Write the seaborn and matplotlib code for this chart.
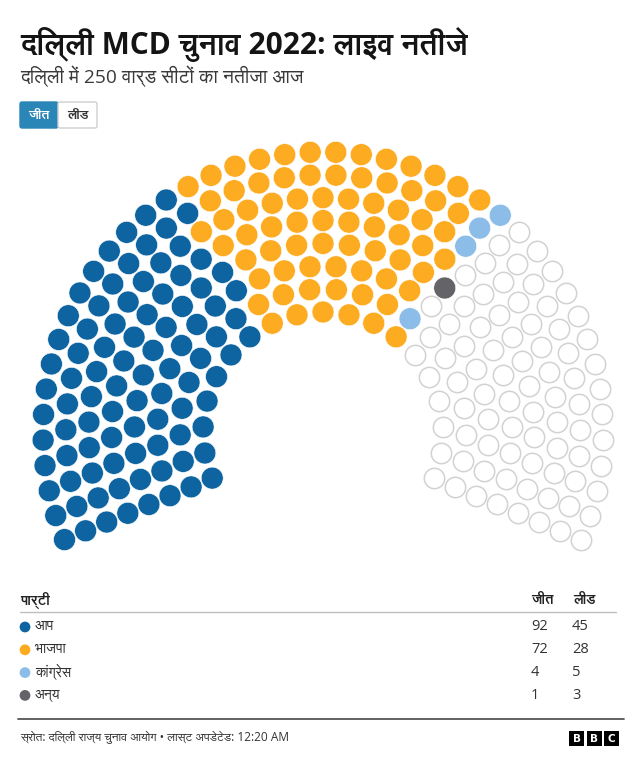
import numpy as np
import pandas as pd
import matplotlib
matplotlib.use("Agg")
import matplotlib.pyplot as plt
import seaborn as sns
from matplotlib import font_manager
from matplotlib.ft2font import FT2Font
from matplotlib.patches import FancyBboxPatch, Rectangle

# data
parties = ["आप", "भाजपा", "कांग्रेस", "अन्य"]
wins = [92, 72, 4, 1]
leads = [45, 28, 5, 3]
colors = ["#0e64a0", "#fdab20", "#8bbde8", "#636368"]
total_seats = 250
n_rows = 8

title = "दिल्ली MCD चुनाव 2022: लाइव नतीजे"
subtitle = "दिल्ली में 250 वार्ड सीटों का नतीजा आज"
source = "स्रोत: दिल्ली राज्य चुनाव आयोग • लास्ट अपडेटेड: 12:20 AM"


def weight_of(f):
    w = f.weight
    if isinstance(w, str):
        w = font_manager.weight_dict.get(w, 400)
    return w


def devanagari_fonts():
    # installed families with a Devanagari glyph, those with a bold face first
    names, bold = [], set()
    for f in font_manager.fontManager.ttflist:
        try:
            if ord("द") not in FT2Font(f.fname).get_charmap():
                continue
        except Exception:
            continue
        if f.name not in names:
            names.append(f.name)
        if weight_of(f) >= 600:
            bold.add(f.name)
    return sorted(names, key=lambda n: n not in bold)


sns.set_theme(style="white")
dev = devanagari_fonts()
fams = ["Open Sans"] + dev[:1] + ["DejaVu Sans"]
plt.rcParams["font.family"] = fams

# seat layout: rows of a 225 degree arc, seats ordered by angle
cx, cy = 323, 432
r_in, r_out = 120, 280
radii = np.linspace(r_in, r_out, n_rows)
raw = total_seats * radii / radii.sum()
per_row = np.floor(raw).astype(int)
rest = total_seats - per_row.sum()
per_row[np.argsort(raw - per_row)[::-1][:rest]] += 1

a0, a1 = np.radians(202.6), np.radians(-22.6)
rows = []
for r, n in zip(radii, per_row):
    ang = np.linspace(a0, a1, n)
    rows.append(pd.DataFrame({"ang": ang, "r": r}))
seats = pd.concat(rows, ignore_index=True)
seats = seats.sort_values(["ang", "r"], ascending=[False, True]).reset_index(drop=True)
seats["x"] = cx + seats["r"] * np.cos(seats["ang"])
seats["y"] = cy - seats["r"] * np.sin(seats["ang"])
seats["party"] = (sum([[p] * w for p, w in zip(parties, wins)], [])
                  + ["खाली"] * (total_seats - sum(wins)))

fig = plt.figure(figsize=(6.4, 7.66), dpi=100)
ax = fig.add_axes([0, 0, 1, 1])
ax.set_xlim(0, 640)
ax.set_ylim(766, 0)
ax.axis("off")

filled = seats[seats["party"] != "खाली"]
empty = seats[seats["party"] == "खाली"]
sns.scatterplot(data=empty, x="x", y="y", s=215, color="white",
                edgecolor="#d2d2d2", linewidth=1.1, legend=False, ax=ax)
sns.scatterplot(data=filled, x="x", y="y", hue="party", hue_order=parties,
                palette=colors, s=250, edgecolor="white", linewidth=0.4,
                legend=False, ax=ax)

# header
ax.text(20, 44, title, fontsize=21.5, fontweight="bold", color="#141414", va="center")
ax.text(20, 76, subtitle, fontsize=13.8, color="#3a3a3a", va="center")

ax.add_patch(FancyBboxPatch((20, 102), 38, 26, boxstyle="round,pad=0,rounding_size=2",
                            fc="#2a86b6", ec="#2a86b6", lw=1))
ax.add_patch(FancyBboxPatch((58, 102), 39, 26, boxstyle="round,pad=0,rounding_size=2",
                            fc="white", ec="#cfcfcf", lw=1))
ax.text(39, 115, "जीत", fontsize=9.5, fontweight="bold", color="white", ha="center", va="center")
ax.text(77.5, 115, "लीड", fontsize=9.5, fontweight="bold", color="#333333", ha="center", va="center")

# table
ax.text(20, 600, "पार्टी", fontsize=10, fontweight="bold", color="#222222", va="center")
ax.text(531, 600, "जीत", fontsize=10, fontweight="bold", color="#222222", va="center")
ax.text(573, 600, "लीड", fontsize=10, fontweight="bold", color="#222222", va="center")
ax.plot([20, 616], [612, 612], color="#bdbdbd", lw=1)

legend = pd.DataFrame({"party": parties, "wins": wins, "leads": leads})
legend["y"] = 627 + 22.8 * np.arange(len(parties))
legend["x"] = 25
sns.scatterplot(data=legend, x="x", y="y", hue="party", hue_order=parties,
                palette=colors, s=60, edgecolor="none", legend=False, ax=ax)
for _, row in legend.iterrows():
    ax.text(35, row["y"], row["party"], fontsize=10, color="#333333", va="center")
    ax.text(531, row["y"], str(row["wins"]), fontsize=10.5, color="#333333", va="center")
    ax.text(572, row["y"], str(row["leads"]), fontsize=10.5, color="#333333", va="center")

# footer
ax.plot([18, 624], [719, 719], color="#555555", lw=1.3)
ax.text(20, 738, source, fontsize=8.6, color="#333333", va="center")
for i, ch in enumerate("BBC"):
    x0 = 569 + i * 17.5
    ax.add_patch(Rectangle((x0, 731), 15, 15, fc="black", ec="none"))
    ax.text(x0 + 7.5, 738.5, ch, fontsize=7.5, fontweight="bold", color="white",
            ha="center", va="center", family="DejaVu Sans")

fig.savefig("out.png", dpi=100, facecolor="white")
